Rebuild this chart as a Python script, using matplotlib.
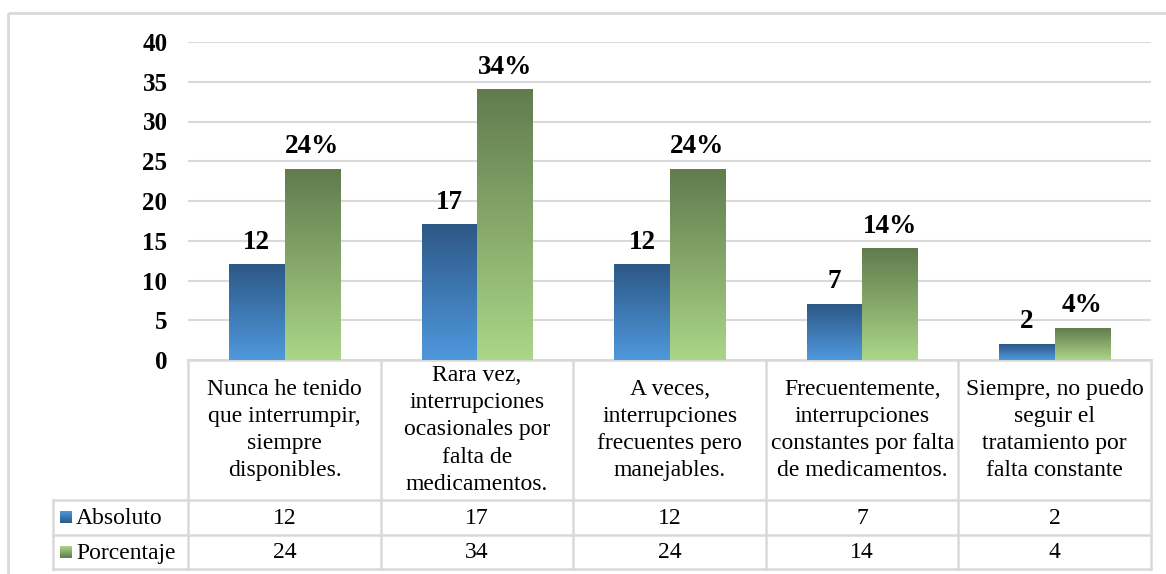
import numpy as np
import matplotlib
matplotlib.use("Agg")
import matplotlib.pyplot as plt
from matplotlib.colors import LinearSegmentedColormap
from matplotlib.transforms import blended_transform_factory
from matplotlib.patches import Rectangle

categories = [
    "Nunca he tenido\nque interrumpir,\nsiempre\ndisponibles.",
    "Rara vez,\ninterrupciones\nocasionales por\nfalta de\nmedicamentos.",
    "A veces,\ninterrupciones\nfrecuentes pero\nmanejables.",
    "Frecuentemente,\ninterrupciones\nconstantes por falta\nde medicamentos.",
    "Siempre, no puedo\nseguir el\ntratamiento por\nfalta constante",
]
series_names = ["Absoluto", "Porcentaje"]
absoluto = [12, 17, 12, 7, 2]
porcentaje = [24, 34, 24, 14, 4]
yticks = [0, 5, 10, 15, 20, 25, 30, 35, 40]

plt.rcParams['font.family'] = ['Liberation Serif', 'DejaVu Serif']

W, H = 1166, 574
fig = plt.figure(figsize=(W / 100, H / 100), dpi=100)
fig.patch.set_facecolor('white')

# overlay axes in pixel coordinates
ov = fig.add_axes([0, 0, 1, 1], zorder=0)
ov.set_xlim(0, W)
ov.set_ylim(H, 0)
ov.axis('off')

left_px, right_px, top_px, zero_px = 188.3, 1151, 42, 360
ax = fig.add_axes([left_px / W, 1 - zero_px / H, (right_px - left_px) / W, (zero_px - top_px) / H], zorder=1)
ax.patch.set_alpha(0)

cmap_blue = LinearSegmentedColormap.from_list('b', ['#4F98DD', '#2D5886'])
cmap_green = LinearSegmentedColormap.from_list('g', ['#ABD688', '#617B4E'])
grad = np.linspace(0, 1, 256).reshape(-1, 1)

bw = 0.288
x = np.arange(len(categories))
for vals, off, cm, fmt in [(absoluto, -bw / 2, cmap_blue, "{}"), (porcentaje, bw / 2, cmap_green, "{}%")]:
    bars = ax.bar(x + off, vals, width=bw, color='none', edgecolor='none', zorder=3)
    for b, v in zip(bars, vals):
        x0 = b.get_x()
        ax.imshow(grad, cmap=cm, origin='lower', aspect='auto',
                  extent=[x0, x0 + bw, 0, v], zorder=3, interpolation='bilinear')
        ax.annotate(fmt.format(v), (x0 + bw / 2, v), xytext=(0, 11.5), textcoords='offset points',
                    ha='center', va='baseline', fontsize=19.5, fontweight='bold', zorder=4)

ax.set_xlim(-0.5, len(categories) - 0.5)
ax.set_ylim(0, 40)
ax.set_yticks(yticks)
ax.set_yticklabels([str(t) for t in yticks], fontsize=18, fontweight='bold')
ax.tick_params(axis='y', length=0, pad=15)
ax.set_xticks([])
for s in ax.spines.values():
    s.set_visible(False)
ax.yaxis.grid(True, color='#D9D9D9', linewidth=1.5, zorder=0)
ax.set_axisbelow(True)

# outer border
ov.add_patch(Rectangle((8, 13), W + 10, H + 10, fill=False, edgecolor='#D9D9D9', linewidth=2))

# data table
tr = blended_transform_factory(ax.transData, ov.transData)
line_kw = dict(color='#D9D9D9', linewidth=1.8, clip_on=False, zorder=2)
hdr_top, hdr_bot, r1_bot, r2_bot = 360, 500, 535, 569
leg_left = 53
n = len(categories)
# horizontal lines
ax.plot([-0.5, n - 0.5], [hdr_top, hdr_top], transform=tr, **line_kw)
for yy in [hdr_bot, r1_bot, r2_bot]:
    ov.plot([leg_left, right_px], [yy, yy], **line_kw)
# vertical lines
for i in range(n + 1):
    ax.plot([i - 0.5, i - 0.5], [hdr_top, r2_bot], transform=tr, **line_kw)
ov.plot([leg_left, leg_left], [hdr_bot, r2_bot], **line_kw)

fs = 17
for i, c in enumerate(categories):
    ax.text(i, (hdr_top + hdr_bot) / 2, c, transform=tr, ha='center', va='center',
            fontsize=fs, linespacing=1.38)
    ax.text(i, (hdr_bot + r1_bot) / 2 + 1, str(absoluto[i]), transform=tr, ha='center', va='center', fontsize=fs)
    ax.text(i, (r1_bot + r2_bot) / 2 + 1, str(porcentaje[i]), transform=tr, ha='center', va='center', fontsize=fs)

# legend keys
for k, (name, cm, y0, y1) in enumerate([(series_names[0], cmap_blue, hdr_bot, r1_bot),
                                         (series_names[1], cmap_green, r1_bot, r2_bot)]):
    cy = (y0 + y1) / 2
    ov.imshow(grad, cmap=cm, origin='upper', aspect='auto', extent=[60, 72, cy + 6, cy - 6], zorder=3)
    ov.text(76, cy + 1, name, ha='left', va='center', fontsize=fs)
ov.set_xlim(0, W)
ov.set_ylim(H, 0)

fig.savefig('out.png', dpi=100, facecolor='white')
